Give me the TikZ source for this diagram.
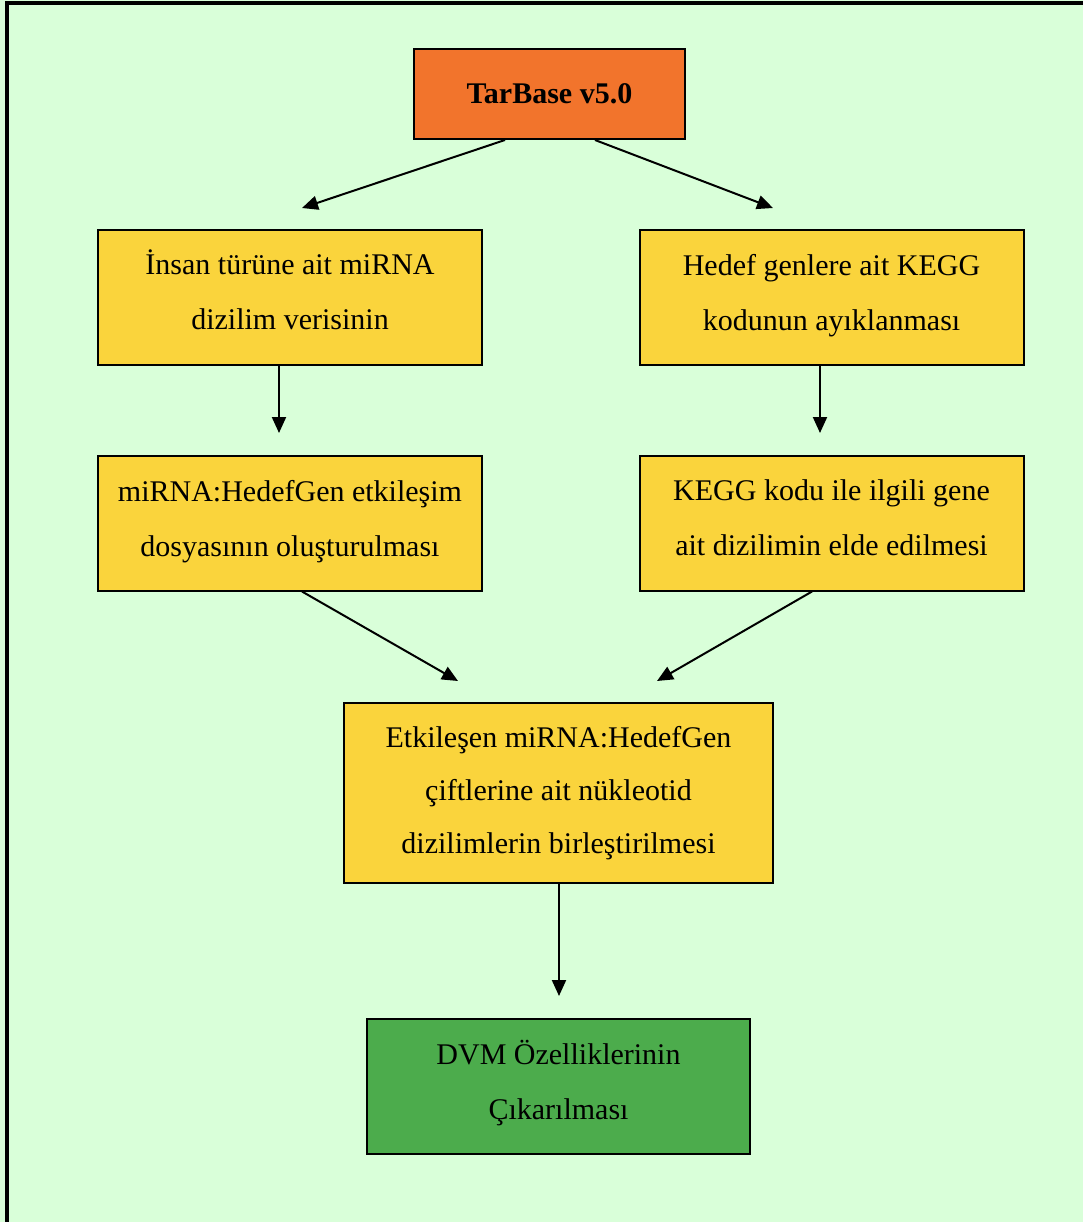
\documentclass[tikz,border=0pt]{standalone}
\usepackage{fontspec}
\setmainfont{Liberation Serif}
\usetikzlibrary{arrows.meta}
\definecolor{bgc}{RGB}{217,255,217}
\definecolor{orangec}{RGB}{242,116,44}
\definecolor{yellowc}{RGB}{250,212,60}
\definecolor{greenc}{RGB}{76,172,76}
\tikzset{
  box/.style={draw=black, line width=1pt, align=center, inner sep=0pt,
    font=\fontsize{15pt}{26.5pt}\selectfont},
  twoline/.style={font=\fontsize{15pt}{27.5pt}\selectfont, text depth=5pt},
  ybox/.style={box, twoline, fill=yellowc, minimum width=192pt, minimum height=67.5pt},
  conn/.style={line width=1pt, -{Triangle[length=8pt,width=7pt]}}
}
\begin{document}
\begin{tikzpicture}[x=0.5pt,y=-0.5pt]
\fill[bgc] (0,0) rectangle (1083,1222);
\useasboundingbox (0,0) rectangle (1083,1222);
\draw[line width=2pt] (7,1222) -- (7,3) -- (1083,3);

\node[box, fill=orangec, minimum width=135.5pt, minimum height=45pt,
  font=\fontsize{15pt}{26.5pt}\selectfont\bfseries] (tb) at (549.5,94) {TarBase v5.0};
\node[ybox] (l1) at (290,297.5) {\smash{İ}nsan türüne ait miRNA\\dizilim verisinin};
\node[ybox] (r1) at (831.5,297.5) {Hedef genlere ait KEGG\\kodunun ayıklanması};
\node[ybox] (l2) at (290,523) {miRNA:HedefGen etkileşim\\dosyasının oluşturulması};
\node[ybox] (r2) at (831.5,523) {KEGG kodu ile ilgili gene\\ait dizilimin elde edilmesi};
\node[box, fill=yellowc, minimum width=214.5pt, minimum height=90pt, text depth=3pt] (c) at (558.5,793)
  {Etkileşen miRNA:HedefGen\\çiftlerine ait nükleotid\\dizilimlerin birleştirilmesi};
\node[box, twoline, fill=greenc, minimum width=191.5pt, minimum height=67.5pt] (g) at (558.5,1086.5)
  {DVM \smash{Ö}zelliklerinin\\Çıkarılması};

\coordinate (a1) at (302,208);
\coordinate (a2) at (773,208);
\coordinate (a3) at (279,433);
\coordinate (a4) at (820,433);
\coordinate (a5) at (458,681);
\coordinate (a6) at (657,681);
\coordinate (a7) at (559,996);

\draw[conn] ([xshift=-22.25pt]tb.south) -- (a1);
\draw[conn] ([xshift=22.75pt]tb.south) -- (a2);
\draw[conn] ([xshift=-5.5pt]l1.south) -- (a3);
\draw[conn] ([xshift=-5.75pt]r1.south) -- (a4);
\draw[conn] ([xshift=6pt]l2.south) -- (a5);
\draw[conn] ([xshift=-9.75pt]r2.south) -- (a6);
\draw[conn] ([xshift=0.25pt]c.south) -- (a7);
\end{tikzpicture}
\end{document}
